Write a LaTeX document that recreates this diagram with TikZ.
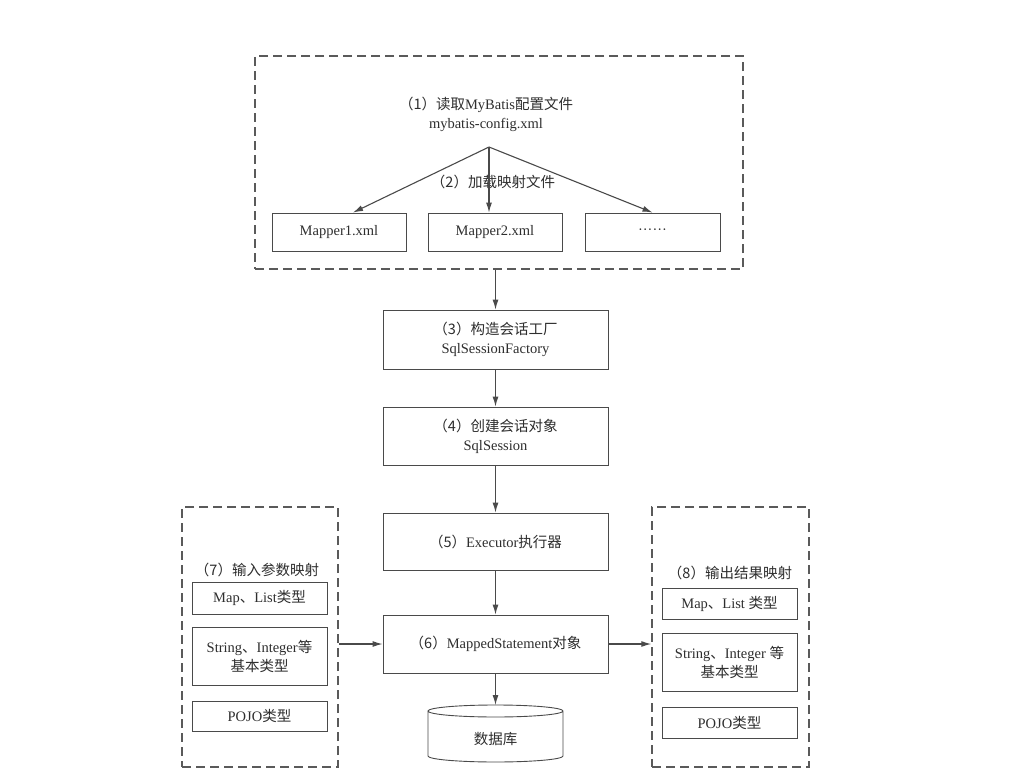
\documentclass[tikz,border=0pt]{standalone}
\usepackage{fontspec}
\setmainfont{Liberation Serif}
\newfontfamily\cjk{Noto Sans CJK SC}[Scale=1.0]
\usetikzlibrary{arrows.meta,calc}
\definecolor{ink}{HTML}{2E2E2E}
\definecolor{linec}{HTML}{4A4A4A}
\definecolor{dashc}{HTML}{5A5A5A}
\begin{document}
\begin{tikzpicture}[x=1pt,y=-1pt,
  every node/.style={text=ink,font=\fontsize{14.5}{19}\selectfont},
  box/.style={draw=linec,line width=0.9pt,rectangle,inner sep=0pt,align=center},
  group/.style={draw=dashc,line width=1.5pt,dash pattern=on 9pt off 5pt,rectangle,inner sep=0pt},
  arr/.style={draw=linec,line width=1.1pt,-{Latex[length=10pt,width=6pt]}},
  lbl/.style={inner sep=0pt,align=center}]
\useasboundingbox (0,0) rectangle (1029,779);
\fill[white] (0,0) rectangle (1029,779);

% top group
\node[group,minimum width=488,minimum height=213] (cfg) at (499,162.5) {};
\node[lbl] (t1) at (486,114) {{\cjk （1）读取}MyBatis{\cjk 配置文件}\\mybatis-config.xml};
\coordinate (split) at (489,147);
\node[box,minimum width=134,minimum height=38] (m1) at (339,232) {Mapper1.xml};
\node[box,minimum width=134,minimum height=38] (m2) at (495,232) {Mapper2.xml};
\node[box,minimum width=135,minimum height=38] (m3) at (652.5,232) {\textperiodcentered\textperiodcentered\textperiodcentered\textperiodcentered\textperiodcentered\textperiodcentered};
\node[lbl,anchor=center] (t2) at (493,182) {\cjk （2）加载映射文件};
\draw[arr] (split) -- ($(m1.north)+(14,0)$);
\draw[arr] (split) -- (split |- m2.north);
\draw[arr] (split) -- (m3.north);

% main column
\node[box,minimum width=225,minimum height=59] (b3) at (495.5,339.5) {{\cjk （3）构造会话工厂}\\SqlSessionFactory};
\node[box,minimum width=225,minimum height=58] (b4) at (495.5,436) {{\cjk （4）创建会话对象}\\SqlSession};
\node[box,minimum width=225,minimum height=57] (b5) at (495.5,541.5) {{\cjk （5）}Executor{\cjk 执行器}};
\node[box,minimum width=225,minimum height=58] (b6) at (495.5,644) {{\cjk （6）}MappedStatement{\cjk 对象}};

% database cylinder
\coordinate (dbtop) at (495.5,705);
\coordinate (dbtl) at (428,711);
\coordinate (dbbl) at (428,756);
\coordinate (dbtr) at (563,711);
\node[inner sep=0pt] (db) at (495.5,739) {\cjk 数据库};
\draw[draw=linec,line width=0.9pt]
  (dbtl) -- (dbbl)
  arc[start angle=180,end angle=360,x radius=67.5pt,y radius=6pt]
  -- (dbtr)
  arc[start angle=0,end angle=360,x radius=67.5pt,y radius=6pt];

\draw[arr] (b3.north |- cfg.south) -- (b3.north);
\draw[arr] (b3) -- (b4);
\draw[arr] (b4) -- (b5);
\draw[arr] (b5) -- (b6);
\draw[arr] (b6) -- (dbtop);

% left group
\node[group,minimum width=156,minimum height=260] (lg) at (260,637) {};
\node[lbl] (t7) at (257,570) {\cjk （7）输入参数映射};
\node[box,minimum width=135,minimum height=32] (lm) at (259.5,598) {Map{\cjk 、}List{\cjk 类型}};
\node[box,minimum width=135,minimum height=58] (ls) at (259.5,656) {String{\cjk 、}Integer{\cjk 等}\\{\cjk 基本类型}};
\node[box,minimum width=135,minimum height=30] (lp) at (259.5,716) {POJO{\cjk 类型}};

% right group
\node[group,minimum width=157,minimum height=260] (rg) at (730.5,637) {};
\node[lbl] (t8) at (730,573) {\cjk （8）输出结果映射};
\node[box,minimum width=135,minimum height=31] (rm) at (729.5,603.5) {Map{\cjk 、}List {\cjk 类型}};
\node[box,minimum width=135,minimum height=58] (rs) at (729.5,662) {String{\cjk 、}Integer {\cjk 等}\\{\cjk 基本类型}};
\node[box,minimum width=135,minimum height=31] (rp) at (729.5,722.5) {POJO{\cjk 类型}};

\draw[arr] (b6.west -| lg.east) -- (b6.west);
\draw[arr] (b6.east) -- (b6.east -| rg.west);
\end{tikzpicture}
\end{document}
